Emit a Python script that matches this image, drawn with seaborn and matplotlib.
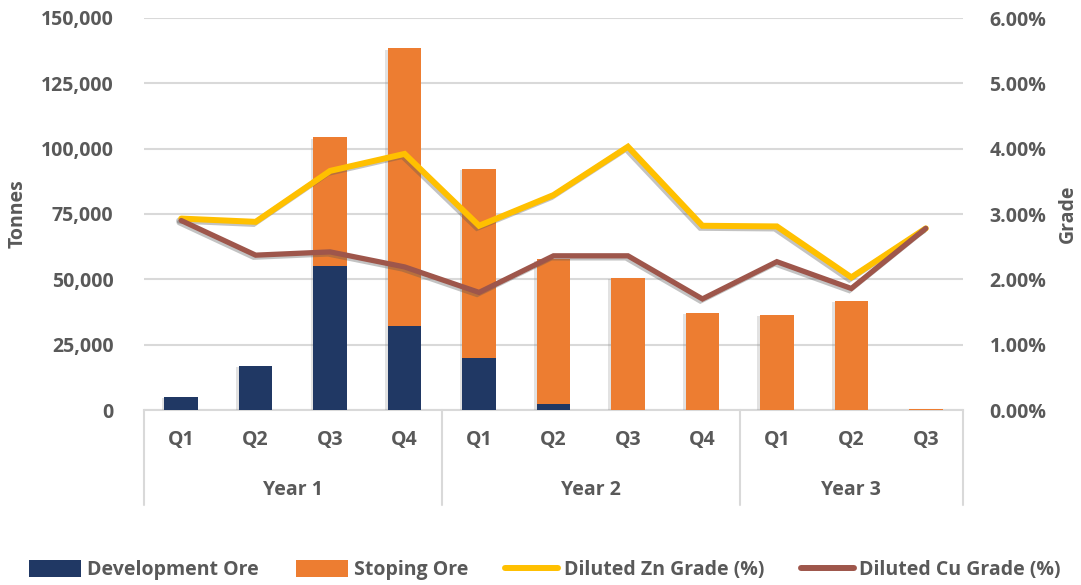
import numpy as np
import pandas as pd
import matplotlib
matplotlib.use("Agg")
import matplotlib.pyplot as plt
import matplotlib.patheffects as pe
from matplotlib.patches import Patch
from matplotlib.lines import Line2D
from matplotlib.ticker import FuncFormatter, FixedLocator
import seaborn as sns

# ---- data ----
years = ["Year 1", "Year 2", "Year 3"]
quarters = ["Q1", "Q2", "Q3", "Q4", "Q1", "Q2", "Q3", "Q4", "Q1", "Q2", "Q3"]
year_of = ["Year 1"] * 4 + ["Year 2"] * 4 + ["Year 3"] * 3
development_ore = [5000, 17000, 55000, 32000, 20000, 2200, 0, 0, 0, 0, 0]
stoping_ore = [0, 0, 49400, 106400, 72300, 55500, 50600, 37100, 36400, 41800, 300]
zn_grade = [2.93, 2.88, 3.66, 3.92, 2.82, 3.29, 4.03, 2.82, 2.81, 2.03, 2.78]
cu_grade = [2.90, 2.37, 2.42, 2.19, 1.80, 2.36, 2.36, 1.70, 2.27, 1.86, 2.78]
left_ticks = [0, 25000, 50000, 75000, 100000, 125000, 150000]
right_ticks = [0, 1, 2, 3, 4, 5, 6]

NAVY = "#203864"
ORANGE = "#ED7D31"
YELLOW = "#FFC000"
BROWN = "#9E564B"
TXT = "#595959"
GRID = "#D9D9D9"
FS = 14

sns.set_theme(style="white")
plt.rcParams["font.family"] = ["Open Sans", "DejaVu Sans"]
plt.rcParams["font.weight"] = "bold"

df = pd.DataFrame({
    "cat": [f"{y} {q}" for y, q in zip(year_of, quarters)],
    "dev": development_ore,
    "stope": stoping_ore,
})
df["total"] = df["dev"] + df["stope"]
order = list(df["cat"])

fig = plt.figure(figsize=(10.81, 5.85), dpi=100)
ax = fig.add_axes([144 / 1081, 1 - 410 / 585, (963 - 144) / 1081, (410 - 18) / 585])

bar_shadow = [pe.SimplePatchShadow(offset=(-2, -1), shadow_rgbFace="#8c8c8c", alpha=0.25), pe.Normal()]
sns.barplot(data=df, x="cat", y="total", order=order, color=ORANGE, width=0.45,
            saturation=1, ax=ax, zorder=3)
n1 = len(ax.patches)
sns.barplot(data=df, x="cat", y="dev", order=order, color=NAVY, width=0.45,
            saturation=1, ax=ax, zorder=4)
for i, p in enumerate(ax.patches):
    p.set_linewidth(0)
    if i < n1:
        p.set_path_effects(bar_shadow)

ax.set_xlim(-0.5, len(order) - 0.5)
ax.set_ylim(0, 150000)
ax.yaxis.set_major_locator(FixedLocator(left_ticks))
ax.yaxis.set_major_formatter(FuncFormatter(lambda v, p: f"{int(v):,}"))
ax.grid(axis="y", color=GRID, linewidth=1.5, zorder=0)
ax.set_axisbelow(True)
for s in ["top", "right", "left"]:
    ax.spines[s].set_visible(False)
ax.spines["bottom"].set_color(GRID)
ax.spines["bottom"].set_linewidth(1.5)
ax.set_xticks([])
ax.set_xlabel("")
ax.set_ylabel("")
ax.tick_params(axis="y", length=0, pad=22, labelsize=FS, labelcolor=TXT)
for t in ax.get_yticklabels():
    t.set_fontweight("bold")

ax2 = ax.twinx()
ax2.set_position(ax.get_position())
xs = np.arange(len(order))
line_shadow = [pe.SimpleLineShadow(offset=(-1.5, -1.5), shadow_color="#555555", alpha=0.35), pe.Normal()]
sns.lineplot(x=xs, y=zn_grade, color=YELLOW, linewidth=4.3, ax=ax2, zorder=5)
sns.lineplot(x=xs, y=cu_grade, color=BROWN, linewidth=3.8, ax=ax2, zorder=5)
for ln in ax2.lines:
    ln.set_path_effects(line_shadow)
    ln.set_solid_joinstyle("miter")
ax2.set_ylim(0, 6)
ax2.yaxis.set_major_locator(FixedLocator(right_ticks))
ax2.yaxis.set_major_formatter(FuncFormatter(lambda v, p: f"{v:.2f}%"))
for s in ax2.spines.values():
    s.set_visible(False)
ax2.grid(False)
ax2.set_ylabel("")
ax2.tick_params(axis="y", length=0, pad=19, labelsize=FS, labelcolor=TXT)
for t in ax2.get_yticklabels():
    t.set_fontweight("bold")
ax2.set_xlim(-0.5, len(order) - 0.5)

# category axis (two levels)
trans = ax.get_xaxis_transform()
for i, q in enumerate(quarters):
    ax.text(i, -0.077, q, transform=trans, ha="center", va="center",
            fontsize=FS, fontweight="bold", color=TXT, clip_on=False)
bounds = [-0.5]
start = 0
for y in years:
    n = year_of.count(y)
    ax.text(start + (n - 1) / 2, -0.204, y, transform=trans, ha="center", va="center",
            fontsize=FS, fontweight="bold", color=TXT, clip_on=False)
    start += n
    bounds.append(start - 0.5)
for b in bounds:
    ax.plot([b, b], [0, -0.242], transform=trans, color=GRID, linewidth=1.5,
            clip_on=False, zorder=1)

fig.text(18 / 1081, 1 - 214 / 585, "Tonnes", rotation=90, ha="center", va="center",
         fontsize=FS, fontweight="bold", color=TXT)
fig.text(1068 / 1081, 1 - 214 / 585, "Grade", rotation=90, ha="center", va="center",
         fontsize=FS, fontweight="bold", color=TXT)

handles = [
    Patch(facecolor=NAVY, edgecolor="none", label="Development Ore"),
    Patch(facecolor=ORANGE, edgecolor="none", label="Stoping Ore"),
    Line2D([0], [0], color=YELLOW, linewidth=4.3, label="Diluted Zn Grade (%)"),
    Line2D([0], [0], color=BROWN, linewidth=4.3, label="Diluted Cu Grade (%)"),
]
leg = fig.legend(handles=handles, loc="center", bbox_to_anchor=(0.504, 1 - 570 / 585),
                 ncol=4, frameon=False, fontsize=FS, handlelength=2.7, handleheight=1.0,
                 handletextpad=0.3, columnspacing=1.9)
for t in leg.get_texts():
    t.set_color(TXT)
    t.set_fontweight("bold")

fig.savefig("out.png", dpi=100)
